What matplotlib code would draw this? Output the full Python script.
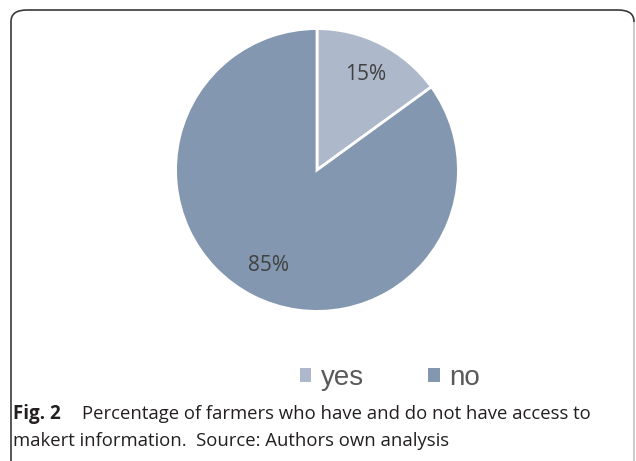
import matplotlib.pyplot as plt
from matplotlib.patches import FancyBboxPatch
from matplotlib.lines import Line2D

labels = ['yes', 'no']
shares = [15, 85]
colors = ['#adb9ca', '#8497b0']

fig = plt.figure(figsize=(6.36, 4.61), dpi=100)

# rounded frame round the whole figure
frame = FancyBboxPatch((11 / 636, -0.05), 623 / 636, (451 / 461) + 0.05,
                       boxstyle='round,pad=0,rounding_size=0.025',
                       transform=fig.transFigure, facecolor='none',
                       edgecolor='#3a3a3a', linewidth=1.2, zorder=0)
fig.patches.append(frame)
fig.add_artist(Line2D([634 / 636, 634 / 636], [0, 0.95], transform=fig.transFigure,
                      color='#cfcfcf', linewidth=1.4))

ax = fig.add_axes([177 / 636, 151 / 461, 280 / 636, 280 / 461])
wedges, texts, autotexts = ax.pie(shares, colors=colors, startangle=90, counterclock=False,
                                  autopct='%d%%', pctdistance=0.76,
                                  wedgeprops=dict(edgecolor='white', linewidth=2),
                                  textprops=dict(color='#404040', fontsize=15, family='Open Sans'))
ax.set_xlim(-0.99, 0.99)
ax.set_ylim(-0.99, 0.99)
ax.set_aspect('equal')

leg = fig.legend(wedges, labels, loc='center', bbox_to_anchor=(390 / 636, 1 - 378 / 461),
                 ncol=2, frameon=False, handlelength=0.42, handleheight=0.42,
                 handletextpad=0.35, columnspacing=2.3,
                 prop=dict(family='Liberation Sans', size=20))
for t in leg.get_texts():
    t.set_color('#595959')
for h in leg.legend_handles:
    h.set_edgecolor('none')

fig.text(13 / 636, 1 - 414 / 461, 'Fig. 2', fontsize=13.5, fontweight='bold',
         family='Open Sans', color='#231f20', va='center')
fig.text(82 / 636, 1 - 414 / 461, 'Percentage of farmers who have and do not have access to',
         fontsize=13.3, family='Open Sans', color='#231f20', va='center')
fig.text(13 / 636, 1 - 441 / 461, 'makert information.  Source: Authors own analysis',
         fontsize=13.3, family='Open Sans', color='#231f20', va='center')

plt.savefig('out.png', dpi=100)
